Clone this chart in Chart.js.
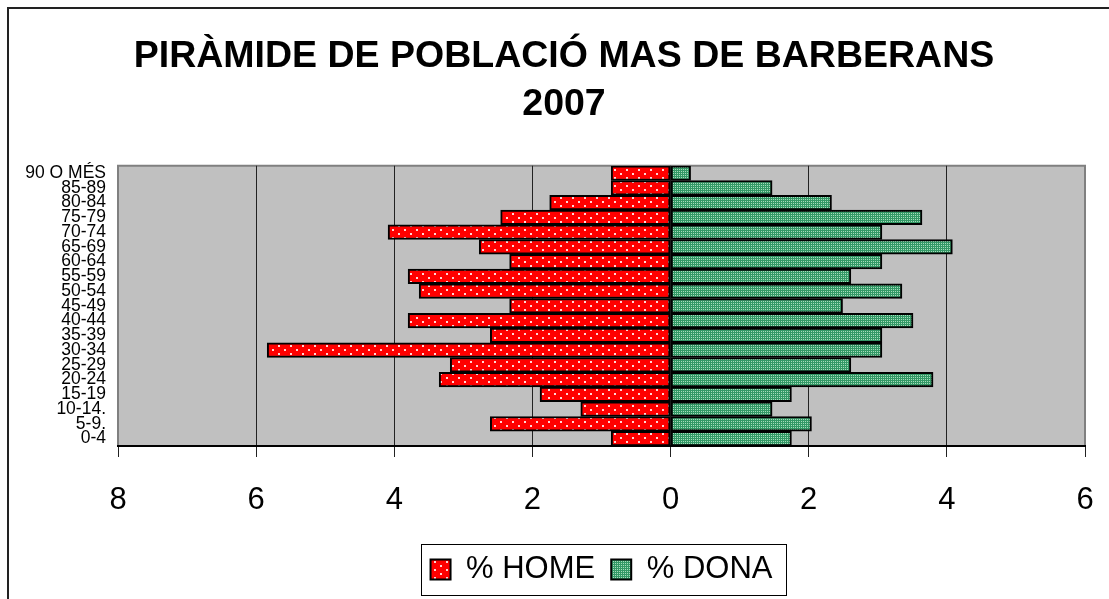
<!DOCTYPE html>
<html lang="ca">
<head>
    <meta charset="UTF-8">
    <title>Piràmide de població Mas de Barberans 2007</title>
    <script src="https://cdn.jsdelivr.net/npm/chart.js"></script>
    <style>
        html, body { margin: 0; padding: 0; background: #fff; }
        #wrap { width: 1109px; height: 599px; }
    </style>
</head>
<body>
<div id="wrap">
    <canvas id="piramide" width="1109" height="599"></canvas>
</div>
<script>
    // Dades llegides del gràfic (de baix a dalt)
    const grups = ['0-4', '5-9.', '10-14.', '15-19', '20-24', '25-29', '30-34', '35-39', '40-44', '45-49',
                   '50-54', '55-59', '60-64', '65-69', '70-74', '75-79', '80-84', '85-89', '90 O MÉS'];
    const home = [0.86, 2.61, 1.30, 1.89, 3.35, 3.19, 5.84, 2.61, 3.80, 2.33,
                  3.64, 3.80, 2.33, 2.77, 4.09, 2.46, 1.75, 0.86, 0.86];
    const dona = [1.75, 2.04, 1.47, 1.75, 3.80, 2.61, 3.06, 3.06, 3.51, 2.49,
                  3.35, 2.61, 3.06, 4.08, 3.06, 3.64, 2.33, 1.47, 0.29];
    const titol = ['PIRÀMIDE DE POBLACIÓ MAS DE BARBERANS', '2007'];

    Chart.defaults.font.family = '"Liberation Sans", Arial, sans-serif';
    Chart.defaults.color = '#000';

    // trama de punts per a les barres
    function trama(fons, punt, w, h, punts) {
        const c = document.createElement('canvas');
        c.width = w;
        c.height = h;
        const x = c.getContext('2d');
        x.fillStyle = fons;
        x.fillRect(0, 0, w, h);
        x.fillStyle = punt;
        punts.forEach(([a, b, s]) => x.fillRect(a, b, s, s));
        return x.createPattern(c, 'repeat');
    }
    const tramaHome = trama('#ff0000', '#ffd6d6', 12, 8, [[2, 1, 2], [8, 5, 2]]);
    const tramaDona = trama('#339966', '#a6dcbc', 4, 4, [[1, 1, 1], [3, 1, 1], [1, 3, 1], [3, 3, 1]]);

    // fons gris de l'àrea del gràfic, marc exterior i requadre de la llegenda
    const decoracio = {
        id: 'decoracio',
        afterLayout(chart) {
            // deixa lloc a les etiquetes llargues de l'eix (no les retallis)
            chart.scales.y.left = 0;
        },
        beforeDraw(chart) {
            const { ctx, chartArea: a } = chart;
            ctx.save();
            ctx.fillStyle = '#c0c0c0';
            ctx.fillRect(a.left, a.top, a.right - a.left, a.bottom - a.top);
            ctx.strokeStyle = '#808080';
            ctx.lineWidth = 2;
            ctx.beginPath();
            ctx.moveTo(a.left, a.bottom);
            ctx.lineTo(a.left, a.top);
            ctx.lineTo(a.right, a.top);
            ctx.lineTo(a.right, a.bottom);
            ctx.stroke();
            // marc del gràfic
            ctx.strokeStyle = '#222';
            ctx.beginPath();
            ctx.moveTo(8, 599);
            ctx.lineTo(8, 8);
            ctx.lineTo(1109, 8);
            ctx.stroke();
            ctx.restore();
        },
        afterDraw(chart) {
            const hb = chart.legend.legendHitBoxes;
            if (!hb || !hb.length) return;
            const { ctx } = chart;
            const last = hb[hb.length - 1];
            const cy = hb[0].top + hb[0].height / 2;
            ctx.save();
            ctx.strokeStyle = '#000';
            ctx.lineWidth = 1;
            ctx.strokeRect(Math.round(hb[0].left - 10) + 0.5, Math.round(cy - 26) + 0.5,
                Math.round(last.left + last.width + 13 - (hb[0].left - 10)), 51);
            ctx.restore();
        }
    };

    new Chart(document.getElementById('piramide'), {
        type: 'bar',
        data: {
            labels: grups,
            datasets: [{
                label: '% HOME',
                data: home.map(v => -v),
                backgroundColor: tramaHome,
                borderColor: '#000',
                borderWidth: 2,
                borderSkipped: false,
                barPercentage: 1,
                categoryPercentage: 1
            }, {
                label: '% DONA',
                data: dona,
                backgroundColor: tramaDona,
                borderColor: '#000',
                borderWidth: 2,
                borderSkipped: false,
                barPercentage: 1,
                categoryPercentage: 1
            }]
        },
        options: {
            indexAxis: 'y',
            responsive: false,
            animation: false,
            devicePixelRatio: 1,
            layout: { padding: { left: 43, right: 24, top: 10, bottom: 4 } },
            scales: {
                x: {
                    stacked: true,
                    min: -8,
                    max: 6,
                    ticks: {
                        stepSize: 2,
                        padding: 0,
                        font: { size: 31, lineHeight: 2.8 },
                        callback: v => Math.abs(v)
                    },
                    grid: {
                        color: c => (c.tick && (c.tick.value === -8 || c.tick.value === 6)) ? 'rgba(0,0,0,0)' : '#222',
                        tickColor: '#222',
                        tickLength: 11,
                        lineWidth: 1
                    },
                    border: { color: '#000', width: 2 },
                    afterFit(s) { s.height = 92; }
                },
                y: {
                    stacked: true,
                    reverse: true,
                    ticks: {
                        autoSkip: false,
                        padding: 12,
                        font: { size: 17.5 }
                    },
                    grid: { display: false, drawTicks: false },
                    border: { display: false },
                    afterFit(s) { s.width = 75; }
                }
            },
            plugins: {
                title: {
                    display: true,
                    text: titol,
                    color: '#000',
                    font: { size: 37.5, weight: 'bold', lineHeight: 1.29 },
                    padding: { top: 22, bottom: 37 }
                },
                legend: {
                    position: 'bottom',
                    fullSize: false,
                    labels: {
                        boxWidth: 20,
                        boxHeight: 20,
                        padding: 16,
                        font: { size: 31 },
                        color: '#000'
                    }
                },
                tooltip: { enabled: false }
            }
        },
        plugins: [decoracio]
    });
</script>
</body>
</html>
